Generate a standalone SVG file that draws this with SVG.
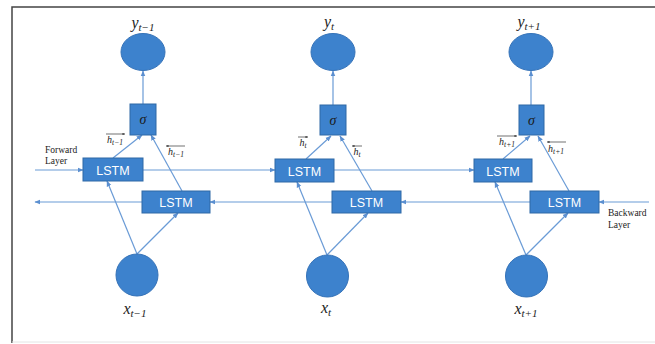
<svg xmlns="http://www.w3.org/2000/svg" width="655" height="344" viewBox="0 0 655 344">
<style>
.node{fill:#3d82cd;stroke:#3472b8;stroke-width:1}
.box{fill:#3d82cd;stroke:#2f68a6;stroke-width:1}
.lbl{font-family:"Liberation Sans",Arial,sans-serif;font-size:12.5px;fill:#ffffff;text-anchor:middle}
.math{font-family:"Liberation Serif","Times New Roman",serif;font-style:italic;fill:#222;text-anchor:middle}
.sig{font-family:"Liberation Serif","Times New Roman",serif;font-style:italic;font-size:14px;fill:#1a1a1a;text-anchor:middle}
.note{font-family:"Liberation Serif","Times New Roman",serif;font-size:9.5px;fill:#222}
.edge{stroke:#6a9bd6;stroke-width:1.2;fill:none;marker-end:url(#ah)}
.ov{stroke:#333;stroke-width:0.7;fill:none}
</style>
<defs>
<marker id="ah" viewBox="0 0 10 10" refX="9" refY="5" markerWidth="5" markerHeight="5" orient="auto">
<path d="M0,1 L10,5 L0,9 z" fill="#5b8fd0"/>
</marker>
<marker id="sa" viewBox="0 0 10 10" refX="9" refY="5" markerWidth="4" markerHeight="4" orient="auto">
<path d="M0,1 L10,5 L0,9 z" fill="#333"/>
</marker>
</defs>
<rect x="0" y="0" width="655" height="344" fill="#ffffff"/>
<path d="M12,343 L12,7 L655,7" stroke="#444" stroke-width="1.5" fill="none"/>
<line x1="12" y1="342" x2="655" y2="342" stroke="#e4e4e4" stroke-width="1"/>

<g id="connectors">
<line class="edge" x1="143" y1="104" x2="143" y2="71"/>
<line class="edge" x1="333" y1="105" x2="333" y2="71"/>
<line class="edge" x1="531" y1="105" x2="531" y2="71"/>
<line class="edge" x1="35" y1="170" x2="83" y2="170"/>
<line class="edge" x1="143" y1="170" x2="275" y2="170"/>
<line class="edge" x1="334" y1="170" x2="474" y2="170"/>
<line class="edge" x1="649" y1="202" x2="599" y2="202"/>
<line class="edge" x1="530" y1="202" x2="401" y2="202"/>
<line class="edge" x1="332" y1="202" x2="210" y2="202"/>
<line class="edge" x1="142" y1="202" x2="35" y2="202"/>
<line class="edge" x1="137" y1="254" x2="107" y2="181"/>
<line class="edge" x1="137" y1="254" x2="178" y2="213"/>
<line class="edge" x1="327" y1="255" x2="297" y2="182"/>
<line class="edge" x1="327" y1="255" x2="368" y2="213"/>
<line class="edge" x1="526" y1="255" x2="495" y2="182"/>
<line class="edge" x1="526" y1="255" x2="568" y2="213"/>
<line class="edge" x1="113" y1="158" x2="142" y2="135"/>
<line class="edge" x1="182" y1="191" x2="151" y2="135"/>
<line class="edge" x1="306" y1="159" x2="331" y2="136"/>
<line class="edge" x1="372" y1="191" x2="340" y2="136"/>
<line class="edge" x1="503" y1="159" x2="530" y2="136"/>
<line class="edge" x1="569" y1="191" x2="538" y2="136"/>
</g>

<g id="y_prev"><ellipse class="node" cx="143" cy="52" rx="22" ry="18.5"/><text class="math" x="143" y="28" font-size="16">y<tspan font-size="11" dy="3">t−1</tspan></text></g>
<g id="y_cur"><ellipse class="node" cx="333" cy="52" rx="22" ry="18.5"/><text class="math" x="329" y="27" font-size="16">y<tspan font-size="11" dy="3">t</tspan></text></g>
<g id="y_next"><ellipse class="node" cx="531" cy="52" rx="22" ry="18.5"/><text class="math" x="529" y="27" font-size="16">y<tspan font-size="11" dy="3">t+1</tspan></text></g>

<g id="sigma_prev"><rect class="box" x="130" y="104" width="26" height="31"/><text class="sig" x="143" y="124">σ</text></g>
<g id="sigma_cur"><rect class="box" x="320" y="105" width="26" height="30"/><text class="sig" x="333" y="125">σ</text></g>
<g id="sigma_next"><rect class="box" x="519" y="105" width="25" height="30"/><text class="sig" x="531.5" y="125">σ</text></g>

<g id="fwd_prev"><rect class="box" x="83" y="158" width="60" height="23"/><text class="lbl" x="113" y="174.5">LSTM</text></g>
<g id="fwd_cur"><rect class="box" x="275" y="159" width="59" height="23"/><text class="lbl" x="304.5" y="175.5">LSTM</text></g>
<g id="fwd_next"><rect class="box" x="474" y="159" width="58" height="23"/><text class="lbl" x="503" y="175.5">LSTM</text></g>

<g id="bwd_prev"><rect class="box" x="142" y="191" width="68" height="22"/><text class="lbl" x="176" y="206.5">LSTM</text></g>
<g id="bwd_cur"><rect class="box" x="332" y="191" width="69" height="22"/><text class="lbl" x="366.5" y="206.5">LSTM</text></g>
<g id="bwd_next"><rect class="box" x="530" y="191" width="69" height="22"/><text class="lbl" x="564.5" y="206.5">LSTM</text></g>

<g id="x_prev"><circle class="node" cx="137" cy="275" r="21"/><text class="math" x="135" y="314" font-size="16">x<tspan font-size="11" dy="3">t−1</tspan></text></g>
<g id="x_cur"><circle class="node" cx="327.5" cy="276" r="21"/><text class="math" x="326" y="313" font-size="16">x<tspan font-size="11" dy="3">t</tspan></text></g>
<g id="x_next"><circle class="node" cx="526.5" cy="276" r="21"/><text class="math" x="526" y="314" font-size="16">x<tspan font-size="11" dy="3">t+1</tspan></text></g>

<g id="h_labels">
<text class="math" x="115" y="143" font-size="10">h<tspan font-size="7.5" dy="2">t−1</tspan></text>
<line class="ov" x1="106" y1="134" x2="125" y2="134" marker-end="url(#sa)"/>
<text class="math" x="176" y="155" font-size="10">h<tspan font-size="7.5" dy="2">t−1</tspan></text>
<line class="ov" x1="185" y1="146" x2="166" y2="146" marker-end="url(#sa)"/>
<text class="math" x="303" y="146" font-size="10">h<tspan font-size="7.5" dy="2">t</tspan></text>
<line class="ov" x1="298" y1="137" x2="308" y2="137" marker-end="url(#sa)"/>
<text class="math" x="357" y="155" font-size="10">h<tspan font-size="7.5" dy="2">t</tspan></text>
<line class="ov" x1="362" y1="146" x2="352" y2="146" marker-end="url(#sa)"/>
<text class="math" x="507" y="145" font-size="10">h<tspan font-size="7.5" dy="2">t+1</tspan></text>
<line class="ov" x1="497" y1="136" x2="517" y2="136" marker-end="url(#sa)"/>
<text class="math" x="556" y="152" font-size="10">h<tspan font-size="7.5" dy="2">t+1</tspan></text>
<line class="ov" x1="566" y1="142" x2="547" y2="142" marker-end="url(#sa)"/>
</g>

<g id="layer_labels">
<text class="note" x="45" y="153">Forward</text>
<text class="note" x="45" y="164">Layer</text>
<text class="note" x="608" y="216">Backward</text>
<text class="note" x="608" y="228">Layer</text>
</g>
</svg>
